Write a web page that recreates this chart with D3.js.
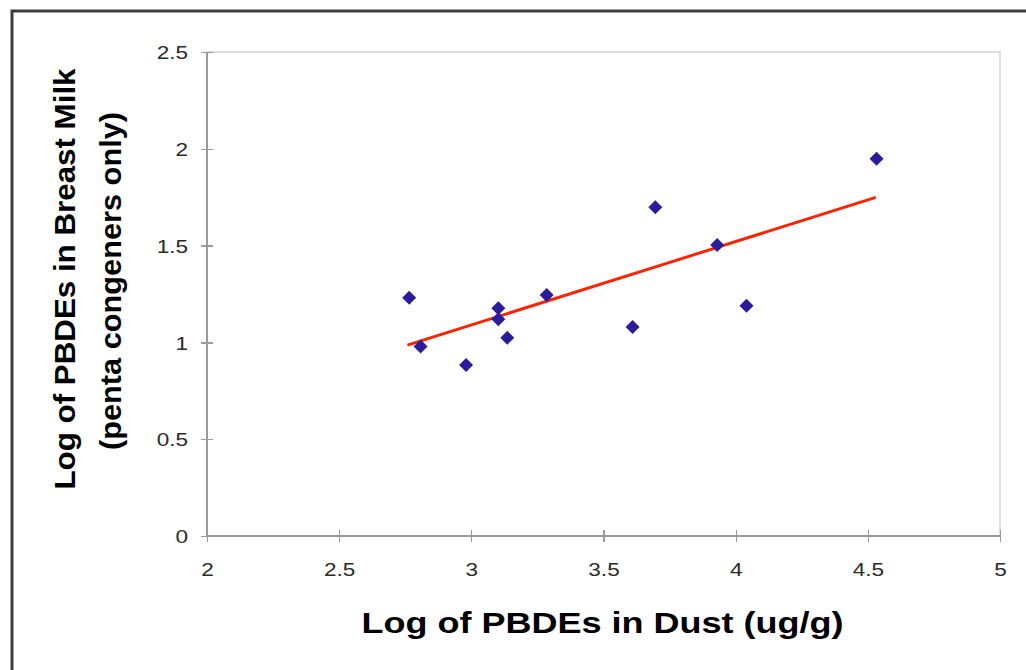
<!DOCTYPE html>
<html>
<head>
<meta charset="utf-8">
<script src="https://cdn.jsdelivr.net/npm/d3@7"></script>
<style>
  html, body { margin: 0; padding: 0; background: #fff; }
  svg { display: block; }
</style>
</head>
<body>
<svg id="chart" width="1026" height="670"></svg>
<script>
// ---- data ----
const dustLog = [2.765, 2.808, 2.980, 3.102, 3.102, 3.136, 3.285, 3.610, 3.696, 3.930, 4.041, 4.533];
const milkLog = [1.231, 0.979, 0.883, 1.177, 1.120, 1.024, 1.245, 1.079, 1.698, 1.503, 1.189, 1.948];
const trendX = [2.758, 4.530];
const trendY = [0.986, 1.749];
const xTicks = [2, 2.5, 3, 3.5, 4, 4.5, 5];
const yTicks = [0, 0.5, 1, 1.5, 2, 2.5];
const xTitle = "Log of PBDEs in Dust (ug/g)";
const yTitleLines = ["Log of PBDEs in Breast Milk", "(penta congeners only)"];

const svg = d3.select("#chart");
const W = 1026, H = 670;
const plot = { left: 207, right: 1000, top: 52, bottom: 536 };

const x = d3.scaleLinear().domain([2, 5]).range([plot.left, plot.right]);
const y = d3.scaleLinear().domain([0, 2.5]).range([plot.bottom, plot.top]);

// outer frame (runs off the right and bottom edges)
svg.append("rect")
  .attr("x", 12).attr("y", 11)
  .attr("width", W + 40).attr("height", H + 40)
  .attr("fill", "none").attr("stroke", "#3d3d3d").attr("stroke-width", 3);

// light plot border (top & right)
svg.append("path")
  .attr("d", `M${plot.left},${plot.top}H${plot.right}V${plot.bottom}`)
  .attr("fill", "none").attr("stroke", "#dedede").attr("stroke-width", 2);

const tickFmt = d3.format("");

// Y axis
const yAxis = svg.append("g")
  .attr("transform", `translate(${plot.left},0)`)
  .call(d3.axisLeft(y).tickValues(yTicks).tickFormat(tickFmt).tickSize(6).tickPadding(0));
yAxis.select(".domain").attr("stroke", "#9a9a9a").attr("stroke-width", 1.6)
  .attr("d", `M0,${plot.top}V${plot.bottom}`);
yAxis.selectAll(".tick line").attr("x1", -6).attr("x2", 6)
  .attr("stroke", "#9a9a9a").attr("stroke-width", 1.3);
yAxis.selectAll(".tick text")
  .attr("x", -15.5).attr("dy", "0.36em")
  .attr("transform", "scale(1.22,1)")
  .attr("fill", "#2a2a2a").style("font-family", "Liberation Sans, Arial, sans-serif")
  .style("font-size", "18.5px");

// X axis
const xAxis = svg.append("g")
  .attr("transform", `translate(0,${plot.bottom})`)
  .call(d3.axisBottom(x).tickValues(xTicks).tickFormat(tickFmt).tickSize(6).tickPadding(0));
xAxis.select(".domain").attr("stroke", "#9a9a9a").attr("stroke-width", 1.6)
  .attr("d", `M${plot.left},0H${plot.right}`);
xAxis.selectAll(".tick line").attr("y1", -6).attr("y2", 6)
  .attr("stroke", "#9a9a9a").attr("stroke-width", 1.3);
xAxis.selectAll(".tick text")
  .attr("y", 40).attr("dy", 0)
  .attr("transform", "scale(1.22,1)")
  .attr("fill", "#2a2a2a").style("font-family", "Liberation Sans, Arial, sans-serif")
  .style("font-size", "18.5px");
svg.selectAll(".tick text").attr("font-family", null).attr("font-size", null);
svg.selectAll(".domain, .tick line").attr("shape-rendering", "crispEdges");

// trend line
svg.append("path")
  .datum(d3.zip(trendX, trendY))
  .attr("d", d3.line().x(d => x(d[0])).y(d => y(d[1])))
  .attr("fill", "none").attr("stroke", "#ff2200").attr("stroke-width", 2.9);

// points (diamonds)
const diamond = d3.symbol(d3.symbolSquare, 98);
svg.append("g").selectAll("path")
  .data(d3.zip(dustLog, milkLog))
  .join("path")
  .attr("d", diamond)
  .attr("transform", d => `translate(${x(d[0])},${y(d[1])}) rotate(45)`)
  .attr("fill", "#2a1c9c");

// titles
svg.append("text")
  .attr("x", 602.5).attr("y", 633)
  .attr("text-anchor", "middle")
  .attr("textLength", 482).attr("lengthAdjust", "spacingAndGlyphs")
  .style("font-family", "Liberation Sans, Arial, sans-serif")
  .style("font-weight", "bold").style("font-size", "30px")
  .attr("fill", "#000")
  .text(xTitle);

const yt = svg.append("g").attr("transform", "translate(0,279) rotate(-90)");
yt.append("text")
  .attr("x", 0).attr("y", 75)
  .attr("text-anchor", "middle")
  .attr("textLength", 421).attr("lengthAdjust", "spacingAndGlyphs")
  .style("font-family", "Liberation Sans, Arial, sans-serif")
  .style("font-weight", "bold").style("font-size", "29px")
  .attr("fill", "#000")
  .text(yTitleLines[0]);
yt.append("text")
  .attr("x", -2).attr("y", 121)
  .attr("text-anchor", "middle")
  .attr("textLength", 338).attr("lengthAdjust", "spacingAndGlyphs")
  .style("font-family", "Liberation Sans, Arial, sans-serif")
  .style("font-weight", "bold").style("font-size", "29px")
  .attr("fill", "#000")
  .text(yTitleLines[1]);
</script>
</body>
</html>
